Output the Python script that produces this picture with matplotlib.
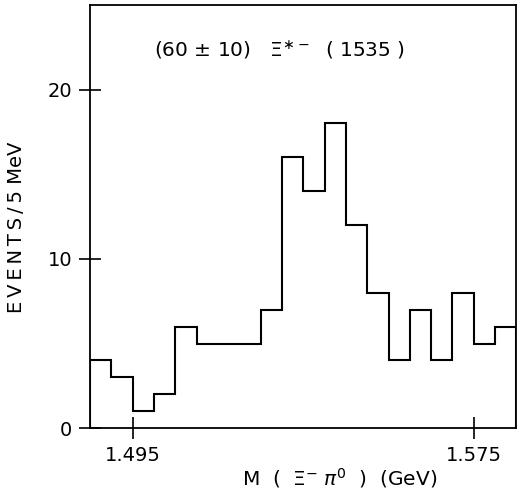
import numpy as np
import matplotlib.pyplot as plt

# histogram: Xi- pi0 invariant mass, 5 MeV bins
bin_edges = np.round(np.arange(1.485, 1.5851, 0.005), 3)
counts = [4, 3, 1, 2, 6, 5, 5, 5, 7, 16, 14, 18, 12, 8, 4, 7, 4, 8, 5, 6]

x_ticks = [1.495, 1.575]
x_tick_labels = ['1.495', '1.575']
y_ticks = [0, 10, 20]

fig = plt.figure(figsize=(5.18, 4.95), dpi=100)
ax = fig.add_axes([0.174, 0.135, 0.823, 0.855])

ax.stairs(counts, bin_edges, color='black', linewidth=1.5)

ax.set_xlim(1.485, 1.585)
ax.set_ylim(0, 25)
ax.set_xticks(x_ticks)
ax.set_xticklabels(x_tick_labels)
ax.set_yticks(y_ticks)
ax.tick_params(direction='inout', length=16, width=1.2, labelsize=14, pad=5)
for s in ax.spines.values():
    s.set_linewidth(1.3)

ax.text(0.444, 0.894, r'(60 $\pm$ 10)   $\Xi^{\ast -}$  ( 1535 )', transform=ax.transAxes,
        ha='center', va='center', fontsize=14.5)
ax.set_ylabel('\u2009'.join('EVENTS/5') + ' MeV', fontsize=14)
ax.yaxis.set_label_coords(-0.15, 0.475)
ax.set_xlabel(r'M  (  $\Xi^{-}\;\pi^{0}$  )  (GeV)', fontsize=14.5)
ax.xaxis.set_label_coords(0.586, -0.09)

fig.savefig('out.png', dpi=100)
